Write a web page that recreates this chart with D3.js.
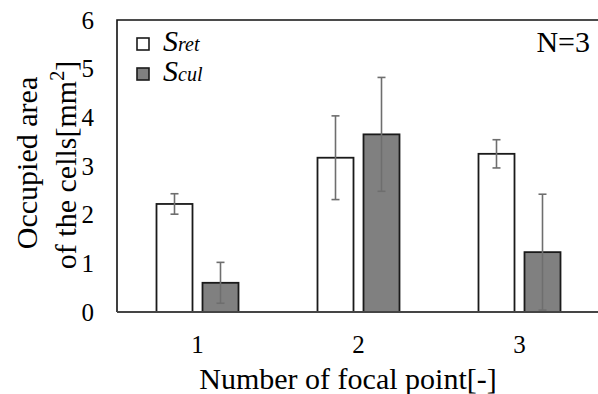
<!DOCTYPE html>
<html>
<head>
<meta charset="utf-8">
<script src="https://cdn.jsdelivr.net/npm/d3@7"></script>
</head>
<body style="margin:0">
<div id="chart"></div>
<style>
	html body #chart svg text, html body #chart svg tspan {
		font-family: "Liberation Serif", "Times New Roman", Tinos, serif !important;
	}
</style>
<script>
var focalPoints = ["1", "2", "3"];
var seriesKeys = ["ret", "cul"];
var retValues = [2.22, 3.17, 3.25];
var retErrors = [0.21, 0.86, 0.29];
var culValues = [0.60, 3.65, 1.23];
var culErrors = [0.42, 1.17, 1.19];
var yTicks = [0, 1, 2, 3, 4, 5, 6];

var opts = {
	width: 598,
	height: 394,
	left: 117,
	right: 600,
	top: 20,
	bottom: 312
};

var fills = { ret: "#ffffff", cul: "#808080" };
var fontName = "Liberation Serif, Times New Roman, Tinos, serif";

drawChart("#chart", opts);

function label(sel, size) {
	return sel.attr("font-family", fontName)
		.attr("font-size", size);
}

function drawChart(containerID, o) {
	var rows = focalPoints.map(function(f, i) {
		return {
			focal: f,
			bars: [
				{ key: "ret", value: retValues[i], err: retErrors[i] },
				{ key: "cul", value: culValues[i], err: culErrors[i] }
			]
		};
	});

	var svg = d3.select(containerID).append("svg")
		.attr("width", o.width)
		.attr("height", o.height)
		.style("display", "block");

	var x0 = d3.scaleBand()
		.domain(focalPoints)
		.range([o.left, o.right]);

	var bw = x0.bandwidth();
	var x1 = d3.scaleBand()
		.domain(seriesKeys)
		.range([bw / 2 - 41, bw / 2 + 41])
		.paddingInner(0.2174);

	var y = d3.scaleLinear()
		.domain([0, 6])
		.range([o.bottom, o.top]);

	// frame: top and left
	svg.append("path")
		.attr("d", "M" + o.right + "," + y(6) + "H" + o.left + "V" + y(0))
		.attr("fill", "none")
		.attr("stroke", "#111")
		.attr("stroke-width", 1.6);

	var groups = svg.selectAll(".group")
		.data(rows)
		.enter().append("g")
		.attr("class", "group")
		.attr("transform", function(d) { return "translate(" + x0(d.focal) + ",0)"; });

	groups.selectAll("rect")
		.data(function(d) { return d.bars; })
		.enter().append("rect")
		.attr("x", function(d) { return x1(d.key); })
		.attr("y", function(d) { return y(d.value); })
		.attr("width", x1.bandwidth())
		.attr("height", function(d) { return y(0) - y(d.value); })
		.attr("fill", function(d) { return fills[d.key]; })
		.attr("stroke", "#1a1a1a")
		.attr("stroke-width", 1.8);

	var err = groups.selectAll(".err")
		.data(function(d) { return d.bars; })
		.enter().append("g")
		.attr("class", "err")
		.attr("stroke", "#6e6e6e")
		.attr("stroke-width", 1.6)
		.attr("transform", function(d) { return "translate(" + (x1(d.key) + x1.bandwidth() / 2) + ",0)"; });

	err.append("line")
		.attr("y1", function(d) { return y(d.value + d.err); })
		.attr("y2", function(d) { return y(d.value - d.err); });
	err.append("line")
		.attr("x1", -4).attr("x2", 4)
		.attr("y1", function(d) { return y(d.value + d.err); })
		.attr("y2", function(d) { return y(d.value + d.err); });
	err.append("line")
		.attr("x1", -4).attr("x2", 4)
		.attr("y1", function(d) { return y(d.value - d.err); })
		.attr("y2", function(d) { return y(d.value - d.err); });

	// bottom axis line
	svg.append("line")
		.attr("x1", o.left).attr("x2", o.right)
		.attr("y1", y(0)).attr("y2", y(0))
		.attr("stroke", "#454545")
		.attr("stroke-width", 2);

	// y tick labels
	svg.selectAll(".ylab")
		.data(yTicks)
		.enter().append("text")
		.attr("class", "ylab")
		.call(label, 25)
		.attr("x", o.left - 23)
		.attr("y", function(d) { return y(d); })
		.attr("dy", "0.35em")
		.attr("text-anchor", "end")
		.text(function(d) { return d; });

	// x tick labels
	svg.selectAll(".xlab")
		.data(focalPoints)
		.enter().append("text")
		.attr("class", "xlab")
		.call(label, 25)
		.attr("x", function(d) { return x0(d) + bw / 2; })
		.attr("y", 353)
		.attr("text-anchor", "middle")
		.text(function(d) { return d; });

	svg.append("text")
		.call(label, 30)
		.attr("x", 348)
		.attr("y", 389)
		.attr("text-anchor", "middle")
		.text("Number of focal point[-]");

	var yt = svg.append("g")
		.attr("transform", "translate(0,165) rotate(-90)");
	yt.append("text")
		.call(label, 30)
		.attr("text-anchor", "middle")
		.attr("x", 2).attr("y", 37)
		.text("Occupied area");
	var l2 = yt.append("text")
		.call(label, 30)
		.attr("text-anchor", "middle")
		.attr("x", 0).attr("y", 76);
	l2.append("tspan").text("of the cells[mm");
	l2.append("tspan").attr("dy", -12).attr("font-size", 20).text("2");
	l2.append("tspan").attr("dy", 12).text("]");

	// legend
	var legend = svg.selectAll(".legend")
		.data(seriesKeys)
		.enter().append("g")
		.attr("class", "legend")
		.attr("transform", function(d, i) { return "translate(137," + (38 + i * 30) + ")"; });

	legend.append("rect")
		.attr("width", 12).attr("height", 12)
		.attr("fill", function(d) { return fills[d]; })
		.attr("stroke", "#1a1a1a")
		.attr("stroke-width", 1.6);

	var lt = legend.append("text")
		.call(label, 30)
		.attr("font-style", "italic")
		.attr("x", 26).attr("y", 13);
	lt.append("tspan").text("S");
	lt.append("tspan").attr("font-size", 20).text(function(d) { return d; });

	svg.append("text")
		.call(label, 30)
		.attr("x", 590)
		.attr("y", 52)
		.attr("text-anchor", "end")
		.text("N=3");
}
</script>
</body>
</html>
